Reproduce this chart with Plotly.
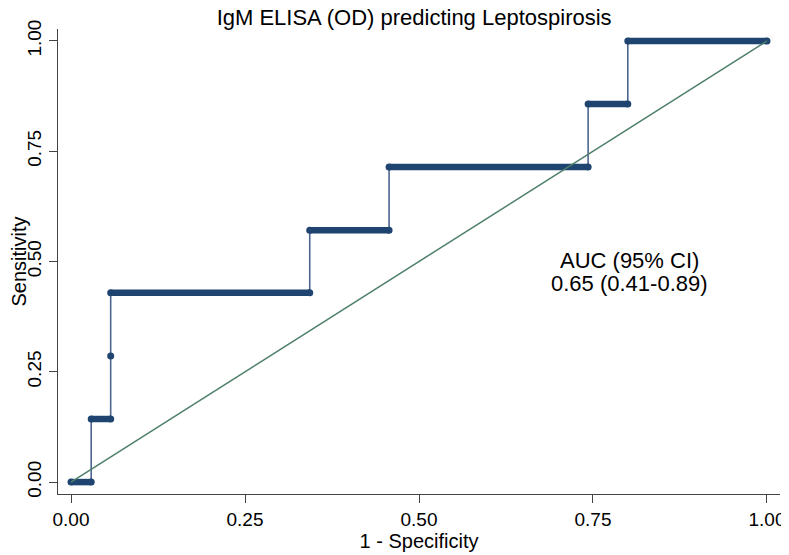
import plotly.graph_objects as go

# ROC curve vertices (1 - specificity, sensitivity)
fpr = [0.0, 0.029, 0.029, 0.057, 0.057, 0.057, 0.343, 0.343,
       0.457, 0.457, 0.743, 0.743, 0.800, 0.800, 1.0]
tpr = [0.0, 0.0, 0.143, 0.143, 0.286, 0.429, 0.429, 0.571,
       0.571, 0.714, 0.714, 0.857, 0.857, 1.0, 1.0]

ref_x = [0, 1]
ref_y = [0, 1]

tick_vals = [0, 0.25, 0.5, 0.75, 1.0]
tick_text = ["0.00", "0.25", "0.50", "0.75", "1.00"]

auc_label = "AUC (95% CI)"
auc_value = "0.65 (0.41-0.89)"

navy = "#1f4470"
font = "Liberation Sans, Arial, sans-serif"

# the flat parts of the curve look like a thick band of markers
seg_x, seg_y = [], []
for i in range(len(fpr) - 1):
    if tpr[i] == tpr[i + 1]:
        seg_x += [fpr[i], fpr[i + 1], None]
        seg_y += [tpr[i], tpr[i + 1], None]

fig = go.Figure()

fig.add_trace(go.Scatter(x=fpr, y=tpr, mode="lines",
                         line=dict(color="#4d6690", width=1.6),
                         hoverinfo="skip"))
fig.add_trace(go.Scatter(x=seg_x, y=seg_y, mode="lines",
                         line=dict(color=navy, width=6.5),
                         hoverinfo="skip"))
fig.add_trace(go.Scatter(x=fpr, y=tpr, mode="markers",
                         marker=dict(color=navy, size=7),
                         hoverinfo="skip"))
fig.add_trace(go.Scatter(x=ref_x, y=ref_y, mode="lines",
                         line=dict(color="#4e7f68", width=1.5),
                         hoverinfo="skip"))

fig.add_annotation(x=0.802, y=0.502, xref="x", yref="y", text=auc_label,
                   showarrow=False, font=dict(family=font, size=22, color="black"))
fig.add_annotation(x=0.802, y=0.450, xref="x", yref="y", text=auc_value,
                   showarrow=False, font=dict(family=font, size=22, color="black"))

# page has an 8px body margin, so the figure is a bit smaller than the window
fig.update_layout(
    width=781, height=547,
    margin=dict(l=50, r=9, t=21, b=61),
    plot_bgcolor="white", paper_bgcolor="white",
    showlegend=False,
    font=dict(family=font, size=20, color="black"),
    title=dict(text="IgM ELISA (OD) predicting Leptospirosis",
               x=0.52, xanchor="center", y=1.0, yanchor="top",
               pad=dict(t=2, b=0),
               font=dict(family=font, size=22, color="black")),
)

fig.update_xaxes(range=[-0.0187, 1.0187], tickvals=tick_vals, ticktext=tick_text,
                 automargin=False,
                 showgrid=False, zeroline=False, showline=True,
                 linecolor="#444", linewidth=1.2,
                 ticks="outside", ticklen=8, tickcolor="#444",
                 tickfont=dict(family=font, size=19),
                 title=dict(text="1 - Specificity", standoff=2,
                            font=dict(family=font, size=20)))
fig.update_yaxes(range=[-0.027, 1.027], tickvals=tick_vals, ticktext=tick_text,
                 tickangle=-90, automargin=False,
                 showgrid=False, zeroline=False, showline=True,
                 linecolor="#444", linewidth=1.2,
                 ticks="outside", ticklen=8, tickcolor="#444",
                 tickfont=dict(family=font, size=19),
                 title=dict(text="Sensitivity", standoff=0,
                            font=dict(family=font, size=20)))

fig.write_html("out.html")
